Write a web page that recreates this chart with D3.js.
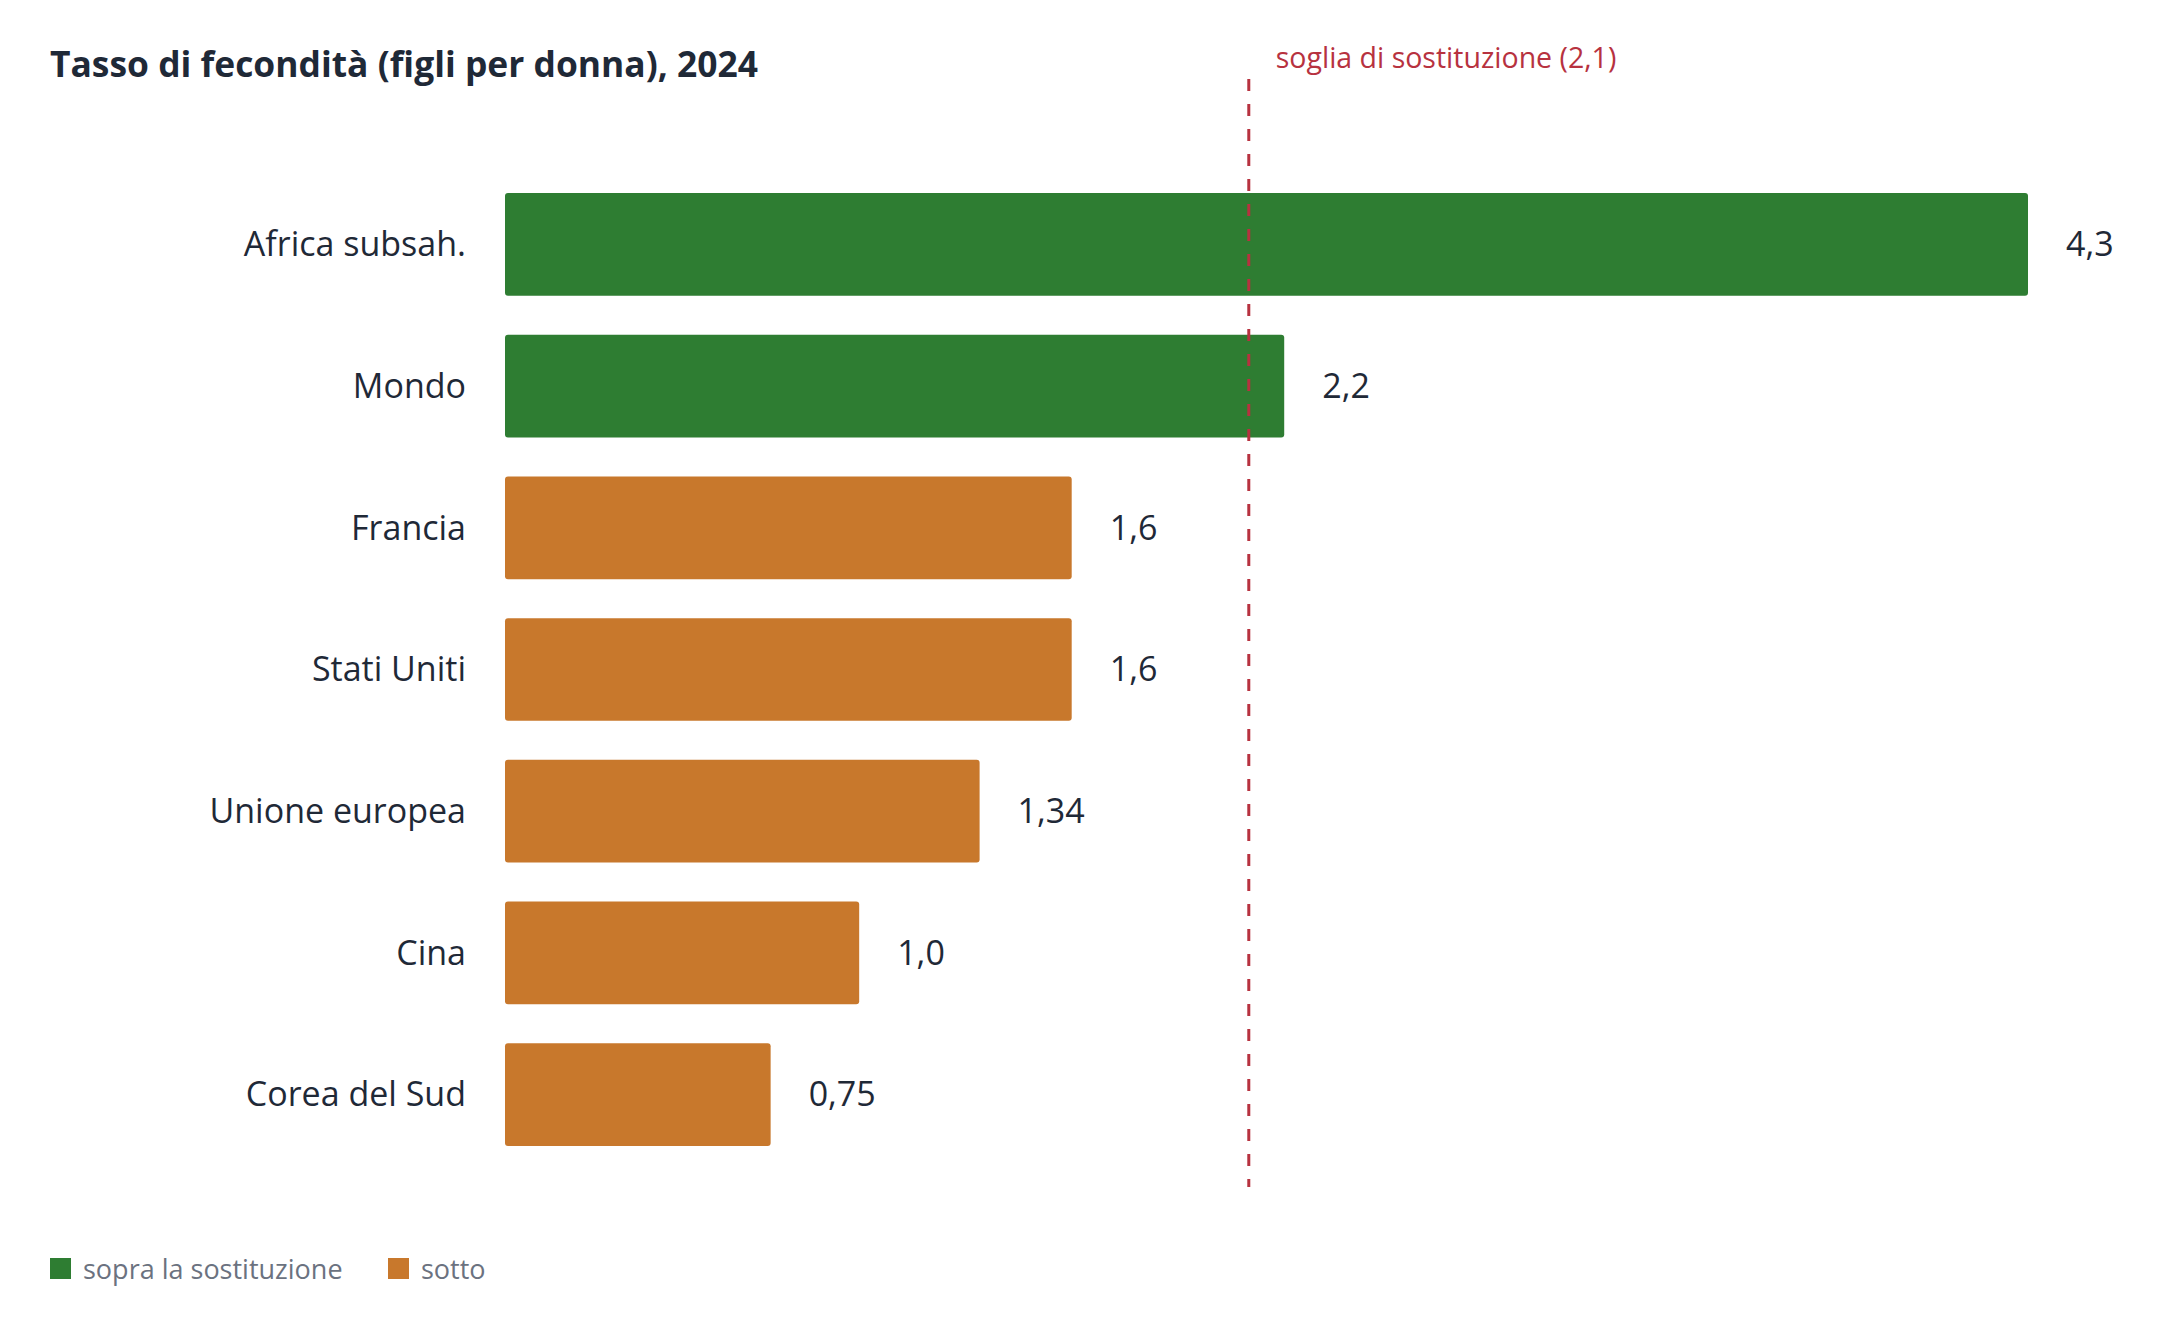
<!DOCTYPE html>
<html>
<head>
<meta charset="utf-8">
<script src="https://cdn.jsdelivr.net/npm/d3@7"></script>
<style>
  body { margin: 0; background: #fff; }
  svg text { font-family: "Open Sans", Lato, sans-serif; font-variant-ligatures: none; }
</style>
</head>
<body>
<div id="chart"></div>
<script>
const width = 2163
const height = 1333

// dati
const categories = ["Africa subsah.", "Mondo", "Francia", "Stati Uniti", "Unione europea", "Cina", "Corea del Sud"]
const values = [4.3, 2.2, 1.6, 1.6, 1.34, 1.0, 0.75]
const valueLabels = ["4,3", "2,2", "1,6", "1,6", "1,34", "1,0", "0,75"]
const threshold = 2.1
const legendLabels = ["sopra la sostituzione", "sotto"]

const green = "#2e7d32"
const orange = "#c8782c"
const red = "#b7323f"
const ink = "#1f2937"

const data = categories.map((c, i) => ({ name: c, value: values[i], label: valueLabels[i] }))

const svg = d3.select("#chart")
    .append("svg")
    .attr("width", width)
    .attr("height", height)

const x = d3.scaleLinear()
    .domain([0, 4.3])
    .range([505, 2028])

const y = d3.scaleBand()
    .domain(categories)
    .range([164.7, 1174.3])
    .paddingInner(0.275)
    .paddingOuter(0.2)

// titolo
svg.append("text")
    .attr("x", 50)
    .attr("y", 77)
    .attr("fill", ink)
    .style("font-size", "35.4px")
    .style("font-weight", "bold")
    .text("Tasso di fecondità (figli per donna), 2024")

// barre
svg.append("g")
    .selectAll("rect")
    .data(data)
    .join("rect")
    .attr("x", x(0))
    .attr("y", d => y(d.name))
    .attr("width", d => x(d.value) - x(0))
    .attr("height", y.bandwidth())
    .attr("rx", 3)
    .attr("fill", d => d.value > threshold ? green : orange)

// etichette categorie
svg.append("g")
    .selectAll("text")
    .data(data)
    .join("text")
    .attr("x", 466)
    .attr("y", d => y(d.name) + y.bandwidth() / 2)
    .attr("dy", "0.35em")
    .attr("text-anchor", "end")
    .attr("fill", ink)
    .style("font-size", "34px")
    .text(d => d.name)

// valori
svg.append("g")
    .selectAll("text")
    .data(data)
    .join("text")
    .attr("x", d => x(d.value) + 38)
    .attr("y", d => y(d.name) + y.bandwidth() / 2)
    .attr("dy", "0.35em")
    .attr("fill", ink)
    .style("font-size", "34px")
    .text(d => d.label)

// linea soglia
svg.append("line")
    .attr("x1", x(threshold))
    .attr("x2", x(threshold))
    .attr("y1", 79)
    .attr("y2", 1187)
    .attr("stroke", red)
    .attr("stroke-width", 3)
    .attr("stroke-dasharray", "12,13")

svg.append("text")
    .attr("x", x(threshold) + 27)
    .attr("y", 68)
    .attr("fill", red)
    .style("font-size", "28.5px")
    .text("soglia di sostituzione (2,1)")

// legenda
const legend = svg.append("g")
const legendX = [50, 388]
legendLabels.forEach((l, i) => {
    legend.append("rect")
        .attr("x", legendX[i])
        .attr("y", 1258)
        .attr("width", 21)
        .attr("height", 21)
        .attr("fill", i === 0 ? green : orange)
    legend.append("text")
        .attr("x", legendX[i] + 33)
        .attr("y", 1279)
        .attr("fill", "#6b7280")
        .style("font-size", "27px")
        .text(l)
})
</script>
</body>
</html>
